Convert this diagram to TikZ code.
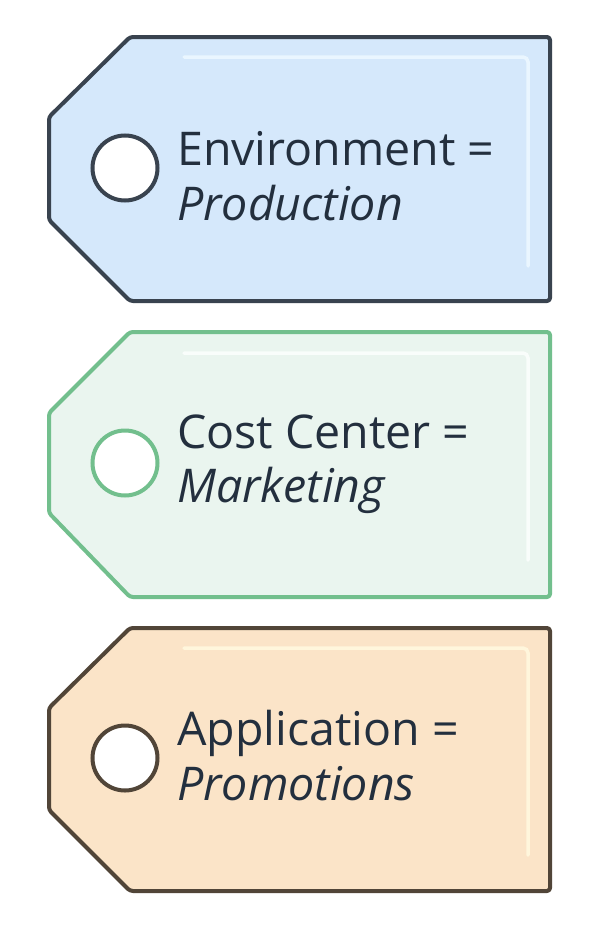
\documentclass[tikz,border=0pt]{standalone}
\usepackage{fontspec}
\setmainfont{Open Sans}
\definecolor{txt}{HTML}{232F3E}
\definecolor{bfill}{HTML}{D5E8FB}
\definecolor{bline}{HTML}{39434F}
\definecolor{bhl}{HTML}{EAF6FF}
\definecolor{gfill}{HTML}{EAF5EF}
\definecolor{gline}{HTML}{72BF8D}
\definecolor{ghl}{HTML}{F9FDFB}
\definecolor{ofill}{HTML}{FBE4C8}
\definecolor{oline}{HTML}{514538}
\definecolor{ohl}{HTML}{FFF6DC}
\tikzset{
  tagbody/.style={line width=4pt, rounded corners=3pt, line join=round},
  hole/.style={circle, fill=white, line width=4pt, minimum size=65pt, inner sep=0pt},
  hlline/.style={line width=3.5pt, rounded corners=5pt, line cap=round},
  keytext/.style={anchor=base west, inner sep=0pt, text=txt, font=\fontsize{46.5}{56}\selectfont},
  valtext/.style={keytext, font=\fontsize{46.5}{56}\selectfont\itshape}
}
\begin{document}
\begin{tikzpicture}[x=1pt,y=-1pt]
\useasboundingbox (0,0) rectangle (615,926);
\fill[white] (0,0) rectangle (615,926);
% Tag 1
\draw[tagbody, draw=bline, fill=bfill] (130,37) -- (550,37) -- (550,301) -- (130,301) -- (49,220) -- (49,117) -- cycle;
\draw[hlline, draw=bhl] (184,57) -- (528,57) -- (528,266);
\node[hole, draw=bline] (h1) at (125,168) {};
\node[keytext] (k1) at (177,165) {Environment =};
\node[valtext] (v1) at (177,220) {Production};
% Tag 2
\draw[tagbody, draw=gline, fill=gfill] (130,332) -- (550,332) -- (550,597) -- (130,597) -- (49,513) -- (49,413) -- cycle;
\draw[hlline, draw=ghl] (184,353) -- (528,353) -- (528,560);
\node[hole, draw=gline] (h2) at (125,463) {};
\node[keytext] (k2) at (177,448) {Cost Center =};
\node[valtext] (v2) at (177,502) {Marketing};
% Tag 3
\draw[tagbody, draw=oline, fill=ofill] (130,628) -- (550,628) -- (550,891) -- (130,891) -- (49,810) -- (49,708) -- cycle;
\draw[hlline, draw=ohl] (184,648) -- (528,648) -- (528,855);
\node[hole, draw=oline] (h3) at (125,758) {};
\node[keytext] (k3) at (177,745) {Application =};
\node[valtext] (v3) at (177,800) {Promotions};
\end{tikzpicture}
\end{document}
